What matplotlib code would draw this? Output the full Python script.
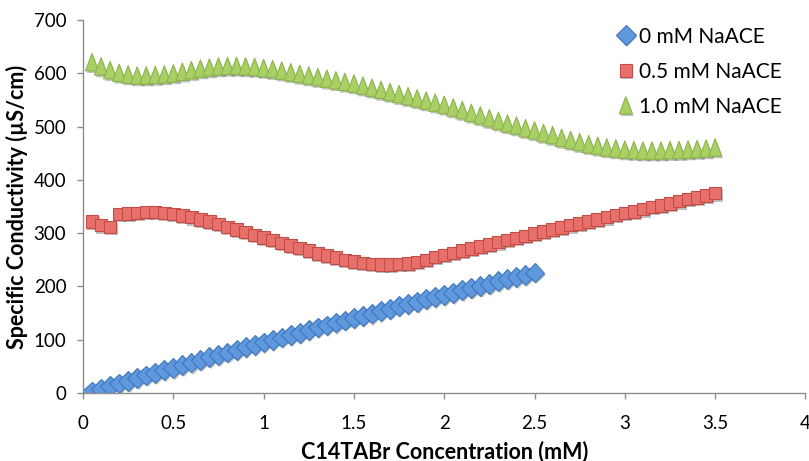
import numpy as np
import matplotlib.pyplot as plt
import matplotlib.patheffects as pe
from matplotlib.path import Path

# C14TABr concentration (mM)
conc_0 = [0.05, 0.10, 0.15, 0.20, 0.25, 0.30, 0.35, 0.40, 0.45, 0.50,
          0.55, 0.60, 0.65, 0.70, 0.75, 0.80, 0.85, 0.90, 0.95, 1.00,
          1.05, 1.10, 1.15, 1.20, 1.25, 1.30, 1.35, 1.40, 1.45, 1.50,
          1.55, 1.60, 1.65, 1.70, 1.75, 1.80, 1.85, 1.90, 1.95, 2.00,
          2.05, 2.10, 2.15, 2.20, 2.25, 2.30, 2.35, 2.40, 2.45, 2.50]
conc_1 = conc_0 + [2.55, 2.60, 2.65, 2.70, 2.75, 2.80, 2.85, 2.90, 2.95, 3.00,
                   3.05, 3.10, 3.15, 3.20, 3.25, 3.30, 3.35, 3.40, 3.45, 3.50]

# specific conductivity (uS/cm)
cond_00 = [3, 8, 13, 18, 23, 28, 33, 38, 43, 47,
           52, 57, 62, 67, 71, 76, 81, 86, 90, 95,
           100, 104, 109, 113, 118, 123, 127, 132, 136, 141,
           145, 149, 154, 158, 163, 167, 171, 176, 180, 184,
           188, 193, 197, 201, 205, 210, 214, 218, 222, 226]
cond_05 = [322, 315, 312, 336, 337, 338, 340, 340, 338, 336,
           333, 330, 326, 322, 317, 312, 307, 302, 297, 292,
           287, 282, 277, 272, 267, 262, 258, 254, 250, 247,
           244, 242, 241, 241, 242, 243, 246, 250, 255, 259,
           263, 267, 271, 275, 279, 283, 287, 291, 295, 299,
           303, 307, 311, 315, 318, 322, 326, 330, 334, 338,
           341, 345, 349, 352, 356, 360, 364, 367, 371, 375]
cond_10 = [621, 613, 606, 601, 598, 596, 596, 597, 598, 600,
           603, 606, 609, 611, 613, 614, 614, 613, 612, 610,
           608, 605, 602, 599, 596, 593, 590, 587, 584, 581,
           577, 573, 569, 565, 561, 557, 553, 549, 545, 541,
           536, 531, 526, 521, 516, 511, 506, 502, 497, 493,
           488, 484, 479, 475, 471, 467, 464, 461, 459, 457,
           456, 455, 455, 455, 456, 456, 457, 458, 459, 461]

labels = ['0 mM NaACE', '0.5 mM NaACE', '1.0 mM NaACE']

plt.rcParams['font.family'] = ['Lato', 'DejaVu Sans']

fig = plt.figure(figsize=(8.09, 4.61), dpi=100)
ax = fig.add_axes([0.1026, 0.1475, 0.893, 0.809])

shadow = [pe.SimplePatchShadow(offset=(1, -1.5), shadow_rgbFace='k', alpha=0.25), pe.Normal()]

# tall triangle like the excel marker
tri = Path([(0, 1), (-0.75, -1), (0.75, -1), (0, 1)],
           [Path.MOVETO, Path.LINETO, Path.LINETO, Path.CLOSEPOLY])

ax.plot(conc_0, cond_00, ls='none', marker='D', ms=10, mfc='#5f98dc',
        mec='#3f77bd', mew=0.8, label=labels[0], path_effects=shadow)
ax.plot(conc_1, cond_05, ls='none', marker='s', ms=9, mfc='#e8706a',
        mec='#c24d48', mew=0.8, label=labels[1], path_effects=shadow)
ax.plot(conc_1, cond_10, ls='none', marker=tri, ms=12.5, mfc='#a9d064',
        mec='#8db44c', mew=0.8, label=labels[2], path_effects=shadow)

ax.set_xlim(0, 4)
ax.set_ylim(0, 700)
ax.set_xticks(np.arange(0, 4.01, 0.5))
ax.set_xticklabels(['0', '0.5', '1', '1.5', '2', '2.5', '3', '3.5', '4'])
ax.set_yticks(np.arange(0, 701, 100))

for s in ['top', 'right']:
    ax.spines[s].set_visible(False)
for s in ['left', 'bottom']:
    ax.spines[s].set_color('#8c8c8c')
    ax.spines[s].set_linewidth(1.0)
ax.tick_params(direction='out', length=4, width=1.0, color='#8c8c8c',
               labelsize=13.5)
ax.tick_params(axis='x', pad=12)
ax.tick_params(axis='y', pad=8)

ax.set_xlabel('C14TABr Concentration (mM)', fontsize=15.5, fontweight='bold', labelpad=6)
ax.set_ylabel('Specific Conductivity (µS/cm)', fontsize=15.5, fontweight='bold', labelpad=4)

leg = ax.legend(loc='upper right', bbox_to_anchor=(0.985, 1.016), frameon=False,
                fontsize=15, handlelength=0.7, handletextpad=0.3,
                labelspacing=0.72, borderaxespad=0.2)

fig.savefig('out.png', dpi=100)
